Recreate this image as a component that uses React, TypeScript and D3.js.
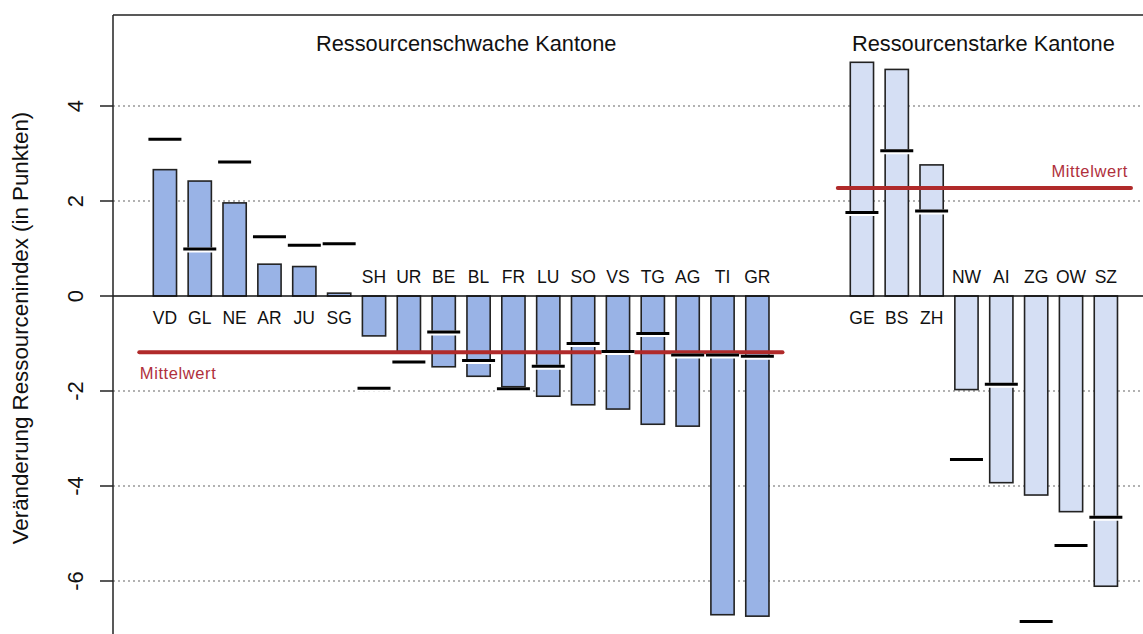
import React from "react";
import * as d3 from "d3";

const weakCantons = ["VD","GL","NE","AR","JU","SG","SH","UR","BE","BL","FR","LU","SO","VS","TG","AG","TI","GR"];
const weakChange = [2.66, 2.42, 1.96, 0.67, 0.62, 0.06, -0.84, -1.17, -1.49, -1.69, -1.91, -2.11, -2.29, -2.38, -2.70, -2.74, -6.71, -6.74];
const weakMarker = [3.30, 0.99, 2.82, 1.25, 1.07, 1.10, -1.94, -1.39, -0.76, -1.36, -1.95, -1.48, -1.00, -1.17, -0.79, -1.24, -1.24, -1.27];
const strongCantons = ["GE","BS","ZH","NW","AI","ZG","OW","SZ"];
const strongChange = [4.92, 4.77, 2.76, -1.97, -3.93, -4.19, -4.54, -6.11];
const strongMarker = [1.76, 3.06, 1.79, -3.44, -1.86, -6.85, -5.25, -4.66];
const weakMean = -1.185;
const strongMean = 2.275;
const yTicks = [4, 2, 0, -2, -4, -6];
const gridTicks = [4, 2, -2, -4, -6];
const gapSlots = ["_gap1", "_gap2"];
const groupTitles = ["Ressourcenschwache Kantone", "Ressourcenstarke Kantone"];
const meanLabel = "Mittelwert";
const yTitle = "Veränderung Ressourcenindex (in Punkten)";

const W = 1143, H = 634;
const FONT = "Arial, 'Liberation Sans', Helvetica, sans-serif";

export default function App() {
  const slots = [...weakCantons, ...gapSlots, ...strongCantons];
  const x = d3.scaleBand<string>().domain(slots).range([153.3, 153.3 + 34.85 * (slots.length - 1 / 3)]).paddingInner(1 / 3).paddingOuter(0);
  const y = d3.scaleLinear().domain([0, 4]).range([296, 106]);
  const bw = x.bandwidth();
  const axisX = 113, topY = 15;

  const weak = weakCantons.map((c, i) => ({ c, v: weakChange[i], m: weakMarker[i], fill: "#99b3e6" }));
  const strong = strongCantons.map((c, i) => ({ c, v: strongChange[i], m: strongMarker[i], fill: "#d5dff4" }));
  const all = [...weak, ...strong];

  const meanLines = [
    { x1: x(weakCantons[0])! - 14, x2: x(weakCantons[weakCantons.length - 1])! + bw + 13.5, v: weakMean,
      lx: x(weakCantons[0])! - 13.5, anchor: "start", ly: y(weakMean) + 26.5 },
    { x1: x(strongCantons[0])! - 12.5, x2: x(strongCantons[strongCantons.length - 1])! + bw + 13.5, v: strongMean,
      lx: x(strongCantons[strongCantons.length - 1])! + bw + 10.5, anchor: "end", ly: y(strongMean) - 11 },
  ];

  const titleX = [
    (x(weakCantons[0])! + x(weakCantons[weakCantons.length - 1])! + bw) / 2 + 5,
    (x(strongCantons[0])! + x(strongCantons[strongCantons.length - 1])! + bw) / 2 - 0.5,
  ];

  return (
    <svg width={W} height={H} style={{ position: "absolute", left: 0, top: 0, background: "#fff" }} fontFamily={FONT}>
      <rect width={W} height={H} fill="#fff" />
      {/* grid */}
      {gridTicks.map((t) => (
        <line key={"g" + t} x1={axisX} x2={W} y1={y(t)} y2={y(t)} stroke="#666" strokeWidth={1.1} strokeDasharray="2,3" />
      ))}
      {/* bars */}
      {all.map((d) => {
        const y0 = y(Math.max(0, d.v));
        const y1 = y(Math.min(0, d.v));
        return (
          <rect key={"b" + d.c} x={x(d.c)} y={y0} width={bw} height={y1 - y0} fill={d.fill} stroke="#222" strokeWidth={1.6} />
        );
      })}
      {/* zero line */}
      <line x1={axisX} x2={W} y1={y(0)} y2={y(0)} stroke="#111" strokeWidth={1.5} />
      {/* frame */}
      <line x1={axisX} x2={W} y1={topY} y2={topY} stroke="#222" strokeWidth={1.5} />
      <line x1={axisX} x2={axisX} y1={topY} y2={H} stroke="#222" strokeWidth={1.5} />
      {/* mean lines */}
      {meanLines.map((m, i) => (
        <g key={"m" + i}>
          <line x1={m.x1} x2={m.x2} y1={y(m.v)} y2={y(m.v)} stroke="#b02a2a" strokeWidth={4} strokeLinecap="round" />
          <text x={m.lx} y={m.ly} fill="#b0303c" fontSize={16.5} letterSpacing={0.6} textAnchor={m.anchor as any}>{meanLabel}</text>
        </g>
      ))}
      {/* markers */}
      {all.map((d) => {
        const cx = x(d.c)! + bw / 2;
        return (
          <g key={"k" + d.c}>
            <line x1={cx - 16.5} x2={cx + 16.5} y1={y(d.m) + 1} y2={y(d.m) + 1} stroke="#fff" strokeWidth={5} />
            <line x1={cx - 16.5} x2={cx + 16.5} y1={y(d.m)} y2={y(d.m)} stroke="#000" strokeWidth={3} />
          </g>
        );
      })}
      {/* canton labels */}
      {all.map((d) => (
        <text key={"l" + d.c} x={x(d.c)! + bw / 2} y={d.v >= 0 ? y(0) + 28 : y(0) - 13.5} textAnchor="middle" fontSize={17.5} fill="#111">{d.c}</text>
      ))}
      {/* group titles */}
      {groupTitles.map((t, i) => (
        <text key={"t" + i} x={titleX[i]} y={50.5} textAnchor="middle" fontSize={21.8} fill="#111">{t}</text>
      ))}
      {/* y axis ticks */}
      {yTicks.map((t) => (
        <g key={"yt" + t}>
          <line x1={100} x2={axisX} y1={y(t)} y2={y(t)} stroke="#222" strokeWidth={1.5} />
          <text transform={`translate(82.5,${y(t)}) rotate(-90)`} textAnchor="middle" fontSize={22} fill="#111">{t}</text>
        </g>
      ))}
      <text transform={`translate(27.5,328) rotate(-90)`} textAnchor="middle" fontSize={22.3} fill="#111">{yTitle}</text>
    </svg>
  );
}
